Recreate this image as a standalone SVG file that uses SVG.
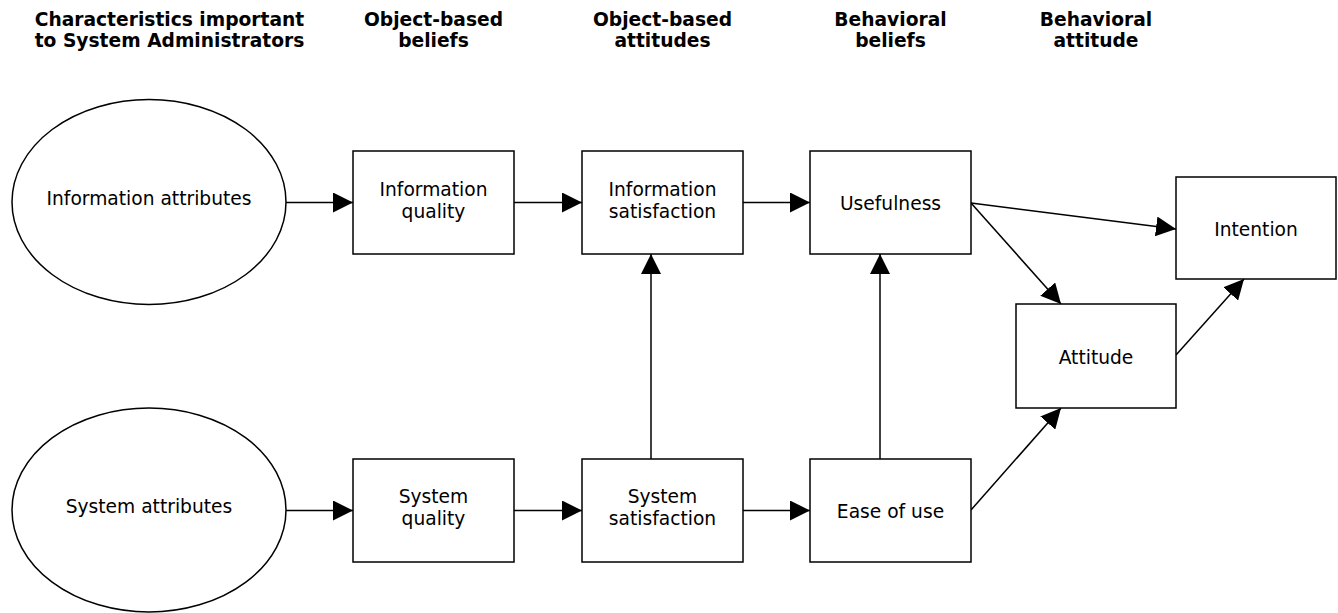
<svg xmlns="http://www.w3.org/2000/svg" width="1338" height="613" viewBox="0 0 1338 613">
<style>
.shape{fill:#fff;stroke:#000;stroke-width:1.5}
.lbl{font-family:"DejaVu Sans",Verdana,sans-serif;font-size:18.67px;fill:#000;text-anchor:middle}
.hdr{font-family:"DejaVu Sans",Verdana,sans-serif;font-size:18.67px;font-weight:bold;fill:#000;text-anchor:middle}
.conn{stroke:#000;stroke-width:1.5;fill:none;marker-end:url(#arr)}
</style>
<defs>
<marker id="arr" markerUnits="userSpaceOnUse" markerWidth="20" markerHeight="20" refX="20" refY="10" orient="auto">
<path d="M0,0 L20,10 L0,20 z" fill="#000"/>
</marker>
</defs>
<rect width="1338" height="613" fill="#fff"/>
<g id="headers">
<text class="hdr" x="169.5" y="26">Characteristics important</text>
<text class="hdr" x="169.5" y="47">to System Administrators</text>
<text class="hdr" x="433.5" y="26">Object-based</text>
<text class="hdr" x="433.5" y="47">beliefs</text>
<text class="hdr" x="662.5" y="26">Object-based</text>
<text class="hdr" x="662.5" y="47">attitudes</text>
<text class="hdr" x="890.5" y="26">Behavioral</text>
<text class="hdr" x="890.5" y="47">beliefs</text>
<text class="hdr" x="1096" y="26">Behavioral</text>
<text class="hdr" x="1096" y="47">attitude</text>
</g>
<g id="connectors">
<line class="conn" x1="286" y1="202.5" x2="353" y2="202.5"/>
<line class="conn" x1="514" y1="202.5" x2="582" y2="202.5"/>
<line class="conn" x1="743" y1="202.5" x2="810" y2="202.5"/>
<line class="conn" x1="286" y1="510.5" x2="353" y2="510.5"/>
<line class="conn" x1="514" y1="510.5" x2="582" y2="510.5"/>
<line class="conn" x1="743" y1="510.5" x2="810" y2="510.5"/>
<line class="conn" x1="651" y1="459" x2="651" y2="254"/>
<line class="conn" x1="880" y1="459" x2="880" y2="254"/>
<line class="conn" x1="971" y1="203" x2="1176" y2="229"/>
<line class="conn" x1="971" y1="203" x2="1061" y2="304"/>
<line class="conn" x1="1176" y1="355" x2="1244" y2="279"/>
<line class="conn" x1="971" y1="510" x2="1061" y2="408"/>
</g>
<g id="info-attributes">
<ellipse class="shape" cx="149" cy="202" rx="137" ry="102.5"/>
<text class="lbl" x="149" y="205">Information attributes</text>
</g>
<g id="system-attributes">
<ellipse class="shape" cx="149" cy="510" rx="137" ry="102"/>
<text class="lbl" x="149" y="513">System attributes</text>
</g>
<g id="info-quality">
<rect class="shape" x="353" y="151" width="161" height="103"/>
<text class="lbl" x="433.5" y="196">Information</text>
<text class="lbl" x="433.5" y="218">quality</text>
</g>
<g id="info-satisfaction">
<rect class="shape" x="582" y="151" width="161" height="103"/>
<text class="lbl" x="662.5" y="196">Information</text>
<text class="lbl" x="662.5" y="218">satisfaction</text>
</g>
<g id="usefulness">
<rect class="shape" x="810" y="151" width="161" height="103"/>
<text class="lbl" x="890.5" y="210">Usefulness</text>
</g>
<g id="system-quality">
<rect class="shape" x="353" y="459" width="161" height="103"/>
<text class="lbl" x="433.5" y="503">System</text>
<text class="lbl" x="433.5" y="525">quality</text>
</g>
<g id="system-satisfaction">
<rect class="shape" x="582" y="459" width="161" height="103"/>
<text class="lbl" x="662.5" y="503">System</text>
<text class="lbl" x="662.5" y="525">satisfaction</text>
</g>
<g id="ease-of-use">
<rect class="shape" x="810" y="459" width="161" height="103"/>
<text class="lbl" x="890.5" y="518">Ease of use</text>
</g>
<g id="attitude">
<rect class="shape" x="1016" y="304" width="160" height="104"/>
<text class="lbl" x="1096" y="364">Attitude</text>
</g>
<g id="intention">
<rect class="shape" x="1176" y="177" width="160" height="102"/>
<text class="lbl" x="1256" y="236">Intention</text>
</g>
</svg>
